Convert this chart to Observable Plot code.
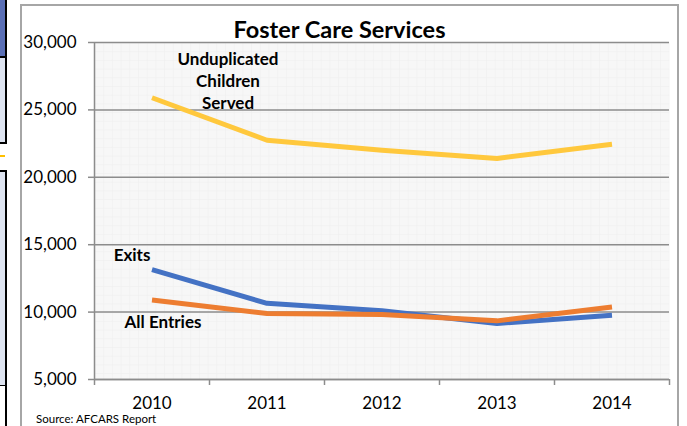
<!DOCTYPE html>
<html>
<head>
<meta charset="utf-8">
<script src="https://cdn.jsdelivr.net/npm/d3@7"></script>
<script src="https://cdn.jsdelivr.net/npm/@observablehq/plot@0.6"></script>
<style>
  html, body { margin: 0; padding: 0; background: #fff; }
  #wrap { position: relative; width: 687px; height: 426px; overflow: hidden; font-family: Lato, "Open Sans", sans-serif; }
  #wrap svg { position: absolute; left: 0; top: 0; }
  .deco { position: absolute; box-sizing: border-box; }
  #title { position: absolute; left: 0; width: 687px; top: 15px; text-align: center; font-weight: bold; font-size: 23.5px; color: #000; margin-left: -4px; }
  #source { position: absolute; left: 36px; top: 412px; font-size: 11.5px; color: #000; }
</style>
</head>
<body>
<div id="wrap">
  <div class="deco" style="left:20px;top:4px;width:659px;height:440px;border:2px solid #a6a6a6;background:#fff;"></div>
  <div class="deco" style="left:0;top:0;width:7px;height:58px;background:#5a6fb5;border-right:2px solid #000;border-bottom:2px solid #000;"></div>
  <div class="deco" style="left:0;top:58px;width:7px;height:86px;background:#dde3f0;border-right:2px solid #000;border-bottom:2px solid #000;"></div>
  <div class="deco" style="left:0;top:155px;width:5px;height:2px;background:#ffc000;"></div>
  <div class="deco" style="left:0;top:170px;width:7px;height:217px;background:#dde3f0;border-right:2px solid #000;border-top:2px solid #000;border-bottom:2px solid #000;"></div>
  <div class="deco" style="left:0;top:386px;width:7px;height:60px;background:#fff;border-right:2px solid #000;"></div>
  <div id="chart"></div>
  <div id="title">Foster Care Services</div>
  <div id="source">Source: AFCARS Report</div>
</div>
<script>
const years = [2010, 2011, 2012, 2013, 2014];
const unduplicated = [25900, 22750, 22000, 21400, 22450];
const exits = [13150, 10650, 10100, 9150, 9770];
const entries = [10900, 9900, 9820, 9350, 10380];
const yTicks = [5000, 10000, 15000, 20000, 25000, 30000];
const boundaries = [2009.5, 2010.5, 2011.5, 2012.5, 2013.5, 2014.5];
const seriesNames = ["Unduplicated\nChildren\nServed", "Exits", "All Entries"];
const seriesColors = ["#ffc83d", "#4472c4", "#ed7d31"];

const seriesValues = [unduplicated, exits, entries];
const rows = [];
seriesNames.forEach((name, s) => {
  years.forEach((yr, i) => rows.push({series: name, year: yr, value: seriesValues[s][i]}));
});
const labelOffsets = {
  "Unduplicated\nChildren\nServed": {dx: 76, dy: -18},
  "Exits": {dx: -20, dy: -16},
  "All Entries": {dx: 11, dy: 21}
};
const firstPoints = rows.filter(d => d.year === years[0]);

const fmt = d3.format(",");
const chart = Plot.plot({
  width: 687,
  height: 426,
  marginLeft: 94,
  marginRight: 18,
  marginTop: 42,
  marginBottom: 47,
  style: {fontFamily: "Lato, 'Open Sans', sans-serif", background: "transparent", color: "#000"},
  x: {domain: [boundaries[0], boundaries[boundaries.length - 1]]},
  y: {domain: [yTicks[0], yTicks[yTicks.length - 1]]},
  color: {domain: seriesNames, range: seriesColors},
  marks: [
    Plot.frame({fill: "url(#minorgrid)", stroke: null}),
    Plot.gridY(yTicks, {stroke: "#8c8c8c", strokeOpacity: 1, strokeWidth: 1.5}),
    Plot.ruleX([boundaries[0]], {stroke: "#8c8c8c", strokeWidth: 1.5}),
    Plot.ruleY([yTicks[0]], {stroke: "#8c8c8c", strokeWidth: 1.5}),
    Plot.axisY(yTicks, {tickSize: 6, tickPadding: 12, tickFormat: fmt, fontSize: 17, stroke: "#8c8c8c", strokeWidth: 1.5, label: null}),
    Plot.axisX(boundaries, {tickSize: 6, tickFormat: () => "", stroke: "#8c8c8c", strokeWidth: 1.5, label: null}),
    Plot.axisX(years, {tickSize: 0, tickPadding: 17, tickFormat: d => String(d), fontSize: 17, label: null}),
    Plot.line(rows, {x: "year", y: "value", z: "series", stroke: "series", strokeWidth: 5, strokeLinecap: "butt", strokeLinejoin: "round"}),
    ...firstPoints.map(p => Plot.text([p], {
      x: "year", y: "value", text: "series",
      dx: labelOffsets[p.series].dx, dy: labelOffsets[p.series].dy,
      fontSize: 17, fontWeight: "bold", lineHeight: 1.3, fill: "#000"
    }))
  ]
});

const ns = "http://www.w3.org/2000/svg";
const defs = document.createElementNS(ns, "defs");
const pat = document.createElementNS(ns, "pattern");
pat.setAttribute("id", "minorgrid");
pat.setAttribute("patternUnits", "userSpaceOnUse");
pat.setAttribute("width", "8.7");
pat.setAttribute("height", "8.7");
pat.setAttribute("x", "94");
pat.setAttribute("y", "42");
const bg = document.createElementNS(ns, "rect");
bg.setAttribute("width", "8.7"); bg.setAttribute("height", "8.7"); bg.setAttribute("fill", "#f7f7f7");
const pth = document.createElementNS(ns, "path");
pth.setAttribute("d", "M0 0H8.7M0 0V8.7");
pth.setAttribute("stroke", "#eeeeee"); pth.setAttribute("stroke-width", "1"); pth.setAttribute("fill", "none");
pat.appendChild(bg); pat.appendChild(pth); defs.appendChild(pat);
chart.insertBefore(defs, chart.firstChild);

document.getElementById("chart").appendChild(chart);
</script>
</body>
</html>
